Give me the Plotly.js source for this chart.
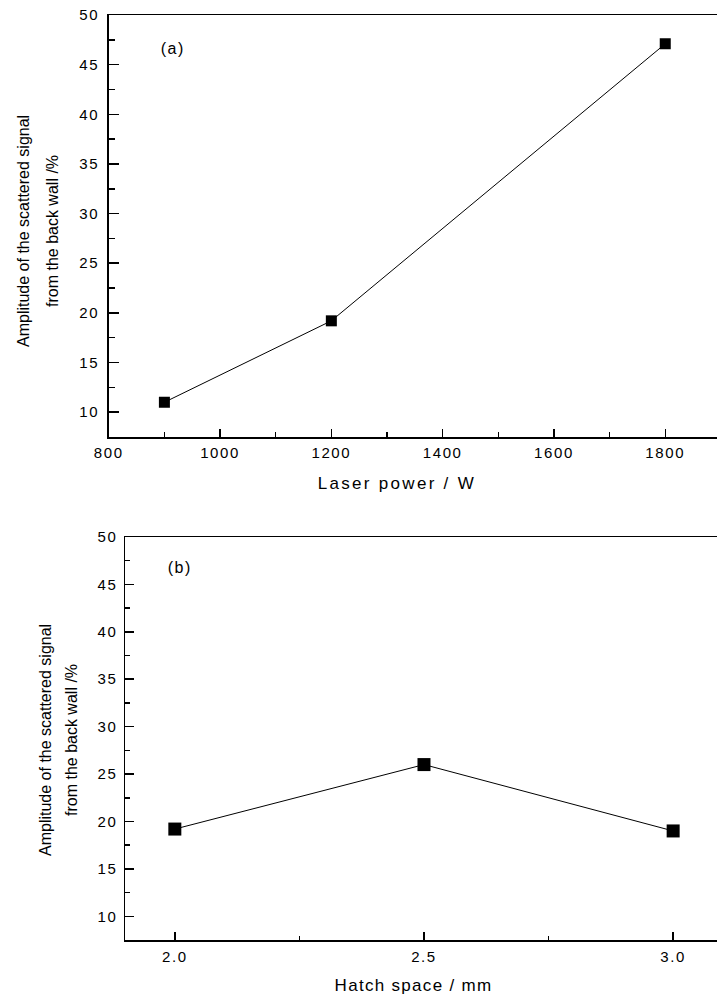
<!DOCTYPE html>
<html>
<head>
<meta charset="utf-8">
<script src="https://cdn.plot.ly/plotly-3.0.1.min.js"></script>
<style>
html, body { margin:0; padding:0; background:#fff; }
#chart { width:717px; height:996px; }
.xtick text, .ytick text, .x2tick text, .y2tick text { letter-spacing:1.6px; }
.annotation[data-index="0"] text, .annotation[data-index="1"] text { letter-spacing:1.5px; }
.annotation[data-index="2"] text { letter-spacing:2.3px; }
.annotation[data-index="3"] text { letter-spacing:1.3px; }
</style>
</head>
<body>
<div id="chart"></div>
<script>
// Panel (a): laser power
const laserPower = [900, 1200, 1800];
const amplitudeA = [11.0, 19.2, 47.1];
// Panel (b): hatch space
const hatchSpace = [2.0, 2.5, 3.0];
const amplitudeB = [19.2, 26.0, 19.0];

const yTitle1 = 'Amplitude of the scattered signal';
const yTitle2 = 'from the back wall /%';
const xTitleA = 'Laser power / W';
const xTitleB = 'Hatch space / mm';

const W = 717, H = 996;
const px = x => x / W;
const py = y => (H - y) / H;
const FONT = 'Liberation Sans, Arial, sans-serif';

const traces = [
  {
    x: laserPower, y: amplitudeA, xaxis: 'x', yaxis: 'y',
    mode: 'lines+markers', type: 'scatter',
    line: {color: '#000', width: 1},
    marker: {symbol: 'square', size: 11, color: '#000'},
    showlegend: false, hoverinfo: 'skip'
  },
  {
    x: hatchSpace, y: amplitudeB, xaxis: 'x2', yaxis: 'y2',
    mode: 'lines+markers', type: 'scatter',
    line: {color: '#000', width: 1},
    marker: {symbol: 'square', size: 13, color: '#000'},
    showlegend: false, hoverinfo: 'skip'
  }
];

const tickFont = {family: FONT, size: 15, color: '#000'};

const layout = {
  width: W, height: H,
  margin: {l: 0, r: 0, t: 0, b: 0},
  paper_bgcolor: '#fff', plot_bgcolor: 'rgba(0,0,0,0)',
  showlegend: false,
  font: {family: FONT, color: '#000'},
  xaxis: {
    domain: [px(108.75), 1], anchor: 'y',
    range: [800, 1893],
    tick0: 800, dtick: 200,
    ticks: 'inside', ticklen: 8, tickwidth: 1.5, tickcolor: '#000',
    minor: {dtick: 100, ticks: 'inside', ticklen: 5, tickwidth: 1.5, tickcolor: '#000'},
    showline: true, linecolor: '#000', linewidth: 1.5, mirror: true,
    showgrid: false, zeroline: false,
    tickfont: tickFont, ticklabelstandoff: 1
  },
  yaxis: {
    domain: [py(437), py(15)], anchor: 'x',
    range: [7.5, 50],
    tick0: 10, dtick: 5,
    ticks: 'inside', ticklen: 10, tickwidth: 1.5, tickcolor: '#000',
    minor: {dtick: 2.5, ticks: 'inside', ticklen: 6, tickwidth: 1.5, tickcolor: '#000'},
    showline: true, linecolor: '#000', linewidth: 1.5,
    showgrid: false, zeroline: false,
    tickfont: tickFont, ticklabelstandoff: 5
  },
  xaxis2: {
    domain: [px(125), 1], anchor: 'y2',
    range: [1.9, 3.088],
    tick0: 2, dtick: 0.5, tickformat: '.1f',
    ticks: 'inside', ticklen: 8, tickwidth: 1.5, tickcolor: '#000',
    minor: {dtick: 0.25, ticks: 'inside', ticklen: 4, tickwidth: 1.5, tickcolor: '#000'},
    showline: true, linecolor: '#000', linewidth: 1.5, mirror: true,
    showgrid: false, zeroline: false,
    tickfont: tickFont, ticklabelstandoff: 2
  },
  yaxis2: {
    domain: [py(940), py(537)], anchor: 'x2',
    range: [7.5, 50],
    tick0: 10, dtick: 5,
    ticks: 'inside', ticklen: 9, tickwidth: 1.5, tickcolor: '#000',
    minor: {dtick: 2.5, ticks: 'inside', ticklen: 5, tickwidth: 1.5, tickcolor: '#000'},
    showline: true, linecolor: '#000', linewidth: 1.5,
    showgrid: false, zeroline: false,
    tickfont: tickFont, ticklabelstandoff: 3
  },
  annotations: [
    {text: '(a)', xref: 'paper', yref: 'paper', x: px(173), y: py(49), xanchor: 'center', yanchor: 'middle', showarrow: false, font: {family: FONT, size: 16, color: '#000'}},
    {text: '(b)', xref: 'paper', yref: 'paper', x: px(180), y: py(567), xanchor: 'center', yanchor: 'middle', showarrow: false, font: {family: FONT, size: 16, color: '#000'}},
    {text: xTitleA, xref: 'paper', yref: 'paper', x: px(397), y: py(483), xanchor: 'center', yanchor: 'middle', showarrow: false, font: {family: FONT, size: 17, color: '#000'}},
    {text: xTitleB, xref: 'paper', yref: 'paper', x: px(414), y: py(985), xanchor: 'center', yanchor: 'middle', showarrow: false, font: {family: FONT, size: 17, color: '#000'}},
    {text: yTitle1, xref: 'paper', yref: 'paper', x: px(23), y: py(231), xanchor: 'center', yanchor: 'middle', textangle: -90, showarrow: false, font: {family: FONT, size: 16, color: '#000'}},
    {text: yTitle2, xref: 'paper', yref: 'paper', x: px(52), y: py(231), xanchor: 'center', yanchor: 'middle', textangle: -90, showarrow: false, font: {family: FONT, size: 16, color: '#000'}},
    {text: yTitle1, xref: 'paper', yref: 'paper', x: px(45), y: py(740), xanchor: 'center', yanchor: 'middle', textangle: -90, showarrow: false, font: {family: FONT, size: 16, color: '#000'}},
    {text: yTitle2, xref: 'paper', yref: 'paper', x: px(71), y: py(740), xanchor: 'center', yanchor: 'middle', textangle: -90, showarrow: false, font: {family: FONT, size: 16, color: '#000'}}
  ]
};

Plotly.newPlot('chart', traces, layout, {staticPlot: true, displayModeBar: false});
</script>
</body>
</html>
